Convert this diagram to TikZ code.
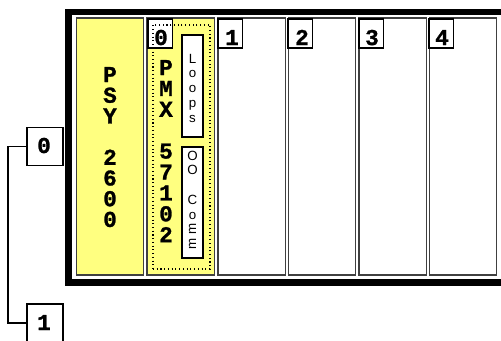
\documentclass[tikz,border=0pt]{standalone}
\usepackage{fontspec}
\setmainfont{Liberation Sans}
\newfontfamily\bigfont[BoldFeatures={FakeBold=1.2}]{Liberation Mono}
\newfontfamily\smallfont{Liberation Sans}
\definecolor{slotyellow}{RGB}{255,255,128}
\begin{document}
\begin{tikzpicture}[x=0.75pt,y=-0.75pt,
  slotbox/.style={draw=black!75, line width=1.1pt, inner sep=0pt, outer sep=0pt,
    minimum width=50.6pt, minimum height=192.75pt},
  numbox/.style={draw=black, line width=0.8pt, fill=white, inner sep=0pt, outer sep=0pt,
    minimum width=18.4pt, minimum height=21.75pt, anchor=north west},
  portbox/.style={draw=black, line width=0.8pt, fill=white, inner sep=0pt, outer sep=0pt,
    minimum width=27pt, minimum height=28pt},
  bigtxt/.style={font=\bigfont\bfseries\fontsize{17}{17}\selectfont, inner sep=0pt, anchor=base},
  smalltxt/.style={font=\smallfont\fontsize{10}{10}\selectfont, inner sep=0pt, anchor=base},
  lblbox/.style={draw=black, line width=1pt, fill=white, inner sep=0pt, outer sep=0pt,
    minimum width=15.75pt},
  wire/.style={draw=black, line width=0.8pt}
]
\useasboundingbox (0,0) rectangle (501,340);
\clip (0,0) rectangle (501,340);
\fill[white] (0,0) rectangle (501,340);

% rack frame
\draw[line width=5pt] (560,12) -- (68.5,12) -- (68.5,282.5) -- (560,282.5);

% slots
\node[slotbox, fill=slotyellow] (psy) at (110,146.5) {};
\node[slotbox, fill=slotyellow] (pmx) at (180.5,146.5) {};
\node[slotbox, fill=white] (s1) at (251.5,146.5) {};
\node[slotbox, fill=white] (s2) at (322,146.5) {};
\node[slotbox, fill=white] (s3) at (392.5,146.5) {};
\node[slotbox, fill=white] (s4) at (463,146.5) {};

% PSY text
\foreach \c [count=\i] in {P,S,Y,{},2,6,0,0}
  \node[bigtxt] (psyt\i) at (110,{82+20.7*(\i-1)}) {\c};

% slot number boxes
\node[numbox] (n0) at (148,19) {};
\node[bigtxt] (n0t) at (161,45) {0};
\node[numbox] (n1) at (218,19) {};
\node[bigtxt] (n1t) at (232,45) {1};
\node[numbox] (n2) at (288,19) {};
\node[bigtxt] (n2t) at (302,45) {2};
\node[numbox] (n3) at (359,19) {};
\node[bigtxt] (n3t) at (372,45) {3};
\node[numbox] (n4) at (429,19) {};
\node[bigtxt] (n4t) at (442,45) {4};

% PMX group
\node[draw=black, dotted, line width=0.8pt, inner sep=0pt, minimum width=42.75pt,
  minimum height=183pt] (grp) at (181.5,147) {};
\foreach \c [count=\i] in {P,M,X,{},5,7,1,0,2}
  \node[bigtxt] (pmxt\i) at (166,{75+20.9*(\i-1)}) {\c};

\node[lblbox, minimum height=76.5pt] (loops) at (192.5,86) {};
\foreach \c [count=\i] in {L,o,o,p,s}
  \node[smalltxt] (lt\i) at (192.5,{63+14.75*(\i-1)}) {\c};

\node[lblbox, minimum height=83.25pt] (comm) at (192.5,202.5) {};
\foreach \c [count=\i] in {O,O,{},C,o,\rotatebox{90}{m},\rotatebox{90}{m}}
  \node[smalltxt] (ct\i) at (192.5,{160+14.9*(\i-1)}) {\c};

% ports on the left
\node[portbox] (p0) at (45,146.5) {};
\node[bigtxt] (p0t) at (44,153) {0};
\node[portbox, minimum height=28.5pt] (p1) at (45,323) {};
\node[bigtxt] (p1t) at (44,330) {1};
\coordinate (bend) at (8,146.5);
\draw[wire] (p0.west) -- (bend) |- (p1.west);
\end{tikzpicture}
\end{document}
